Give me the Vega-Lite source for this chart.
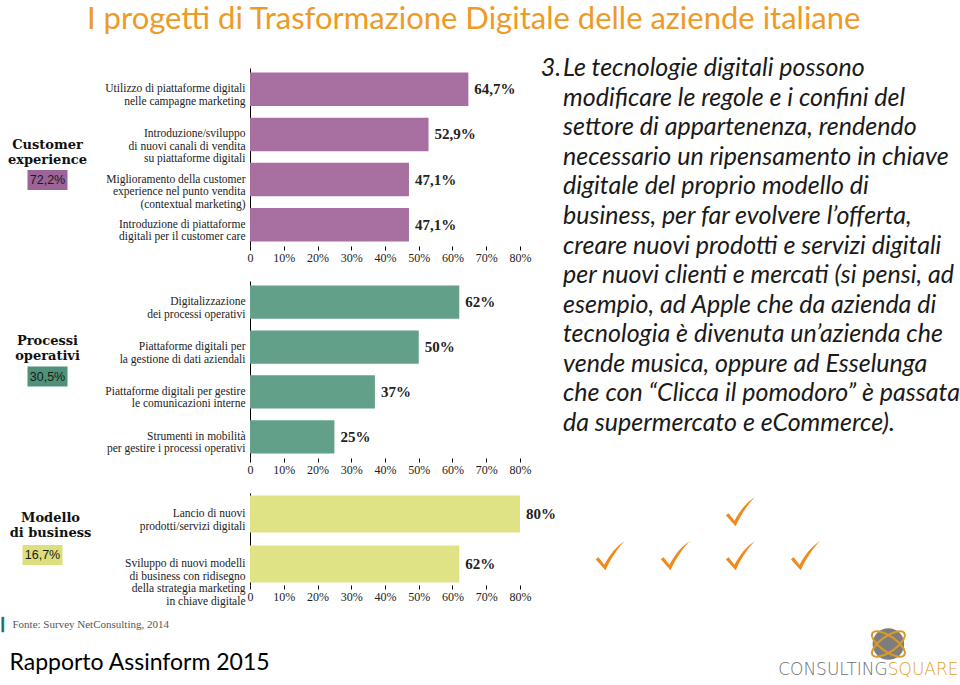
{
  "$schema": "https://vega.github.io/schema/vega-lite/v6.json",
  "background": "white",
  "padding": {"left": 0, "top": 4, "right": 0, "bottom": 0},
  "title": {"text": "I progetti di Trasformazione Digitale delle aziende italiane", "anchor": "start", "dx": 87, "font": "Lato", "fontSize": 31, "fontWeight": "normal", "color": "#EE9A26", "offset": 20},
  "config": {
    "view": {"stroke": null},
    "locale": {"number": {"decimal": ",", "thousands": ".", "grouping": [3], "currency": ["€", ""]}},
    "axisY": {"title": null, "labelExpr": "split(datum.label, '|')", "labelFont": "Liberation Serif", "labelFontSize": 11.5, "labelColor": "#222", "labelLineHeight": 12.5, "ticks": false, "domainColor": "#000", "domainWidth": 1, "labelPadding": 5, "labelLimit": 0},
    "axisX": {"title": null, "values": [0, 0.1, 0.2, 0.3, 0.4, 0.5, 0.6, 0.7, 0.8], "format": ".0%", "labelExpr": "datum.value == 0 ? '0' : datum.label", "domain": false, "grid": false, "tickColor": "#000", "tickSize": 4, "labelFont": "Liberation Serif", "labelFontSize": 12, "labelColor": "#222", "labelPadding": 2, "labelFlush": false}
  },
  "datasets": {
    "p1": [
      {"item": "Utilizzo di piattaforme digitali|nelle campagne marketing", "value": 0.647},
      {"item": "Introduzione/sviluppo|di nuovi canali di vendita|su piattaforme digitali", "value": 0.529},
      {"item": "Miglioramento della customer|experience nel punto vendita|(contextual marketing)", "value": 0.471},
      {"item": "Introduzione di piattaforme|digitali per il customer care", "value": 0.471}
    ],
    "p2": [
      {"item": "Digitalizzazione|dei processi operativi", "value": 0.62},
      {"item": "Piattaforme digitali per|la gestione di dati aziendali", "value": 0.50},
      {"item": "Piattaforme digitali per gestire|le comunicazioni interne", "value": 0.37},
      {"item": "Strumenti in mobilità|per gestire i processi operativi", "value": 0.25}
    ],
    "p3": [
      {"item": "Lancio di nuovi|prodotti/servizi digitali", "value": 0.80},
      {"item": "Sviluppo di nuovi modelli|di business con ridisegno|della strategia marketing|in chiave digitale", "value": 0.62}
    ],
    "groups": [
      {"id": "ce", "group": "Customer|experience", "share": 0.722},
      {"id": "po", "group": "Processi|operativi", "share": 0.305},
      {"id": "mb", "group": "Modello|di business", "share": 0.167}
    ],
    "lines": [
      {"line": 1, "text": "Le tecnologie digitali possono"},
      {"line": 2, "text": "modificare le regole e i confini del"},
      {"line": 3, "text": "settore di appartenenza, rendendo"},
      {"line": 4, "text": "necessario un ripensamento in chiave"},
      {"line": 5, "text": "digitale del proprio modello di"},
      {"line": 6, "text": "business, per far evolvere l’offerta,"},
      {"line": 7, "text": "creare nuovi prodotti e servizi digitali"},
      {"line": 8, "text": "per nuovi clienti e mercati (si pensi, ad"},
      {"line": 9, "text": "esempio, ad Apple che da azienda di"},
      {"line": 10, "text": "tecnologia è divenuta un’azienda che"},
      {"line": 11, "text": "vende musica, oppure ad Esselunga"},
      {"line": 12, "text": "che con “Clicca il pomodoro” è passata"},
      {"line": 13, "text": "da supermercato e eCommerce)."}
    ],
    "checks": [
      {"row": 1, "col": 3},
      {"row": 2, "col": 1},
      {"row": 2, "col": 2},
      {"row": 2, "col": 3},
      {"row": 2, "col": 4}
    ],
    "logo": [{"brand": "CONSULTING", "accent": "SQUARE"}],
    "footer": [{"source": "Fonte: Survey NetConsulting, 2014", "report": "Rapporto Assinform 2015"}]
  },
  "columns": 3,
  "spacing": {"row": 35, "column": 43},
  "bounds": "flush",
  "concat": [
    {
      "width": 207, "height": 178,
      "data": {"name": "groups"},
      "transform": [{"filter": "datum.id == 'ce'"}],
      "layer": [
        {"mark": {"type": "text", "font": "DejaVu Serif", "fontWeight": "bold", "fontSize": 13, "lineHeight": 15, "lineBreak": "|", "dx": -56, "dy": -12, "color": "#111"}, "encoding": {"text": {"field": "group"}}},
        {"mark": {"type": "point", "shape": "M-1,-0.5H1V0.5H-1Z", "filled": true, "size": 1600, "opacity": 1, "color": "#9c6497", "xOffset": -56, "yOffset": 23}, "encoding": {}},
        {"mark": {"type": "text", "font": "'Liberation Sans Narrow', 'Liberation Sans', sans-serif", "fontSize": 12.5, "dx": -56, "dy": 23, "color": "#1a1a1a"}, "encoding": {"text": {"field": "share", "format": ".1%"}}}
      ]
    },
    {
      "width": 270, "height": 178,
      "data": {"name": "p1"},
      "encoding": {
        "y": {"field": "item", "type": "nominal", "sort": null, "scale": {"paddingInner": 0.26, "paddingOuter": 0.1}},
        "x": {"field": "value", "type": "quantitative", "scale": {"domain": [0, 0.8]}}
      },
      "layer": [
        {"mark": {"type": "bar", "color": "#a770a0"}},
        {"mark": {"type": "text", "align": "left", "dx": 6, "font": "Liberation Serif", "fontWeight": "bold", "fontSize": 15, "color": "#222"}, "encoding": {"text": {"field": "value", "format": ".1%"}}}
      ]
    },
    {
      "width": 397, "height": 178,
      "data": {"name": "lines"},
      "encoding": {
        "y": {"field": "line", "type": "ordinal", "scale": {"type": "point", "padding": 0, "range": [0, 355]}, "axis": null},
        "x": {"datum": 0, "type": "quantitative", "scale": {"domain": [0, 1]}, "axis": null}
      },
      "layer": [
        {"mark": {"type": "text", "align": "left", "baseline": "middle", "font": "Lato", "fontStyle": "italic", "fontSize": 25, "color": "#1a1a1a"}, "encoding": {"text": {"field": "text"}}},
        {"transform": [{"filter": "datum.line == 1"}], "mark": {"type": "text", "align": "right", "baseline": "middle", "dx": -2, "font": "Lato", "fontStyle": "italic", "fontSize": 25, "color": "#1a1a1a"}, "encoding": {"text": {"value": "3."}}}
      ]
    },
    {
      "width": 207, "height": 177,
      "data": {"name": "groups"},
      "transform": [{"filter": "datum.id == 'po'"}],
      "layer": [
        {"mark": {"type": "text", "font": "DejaVu Serif", "fontWeight": "bold", "fontSize": 13, "lineHeight": 15, "lineBreak": "|", "dx": -56, "dy": -29, "color": "#111"}, "encoding": {"text": {"field": "group"}}},
        {"mark": {"type": "point", "shape": "M-1,-0.5H1V0.5H-1Z", "filled": true, "size": 1600, "opacity": 1, "color": "#4f9279", "xOffset": -56, "yOffset": 7}, "encoding": {}},
        {"mark": {"type": "text", "font": "'Liberation Sans Narrow', 'Liberation Sans', sans-serif", "fontSize": 12.5, "dx": -56, "dy": 7, "color": "#1a1a1a"}, "encoding": {"text": {"field": "share", "format": ".1%"}}}
      ]
    },
    {
      "width": 270, "height": 177,
      "data": {"name": "p2"},
      "encoding": {
        "y": {"field": "item", "type": "nominal", "sort": null, "scale": {"paddingInner": 0.26, "paddingOuter": 0.1}},
        "x": {"field": "value", "type": "quantitative", "scale": {"domain": [0, 0.8]}}
      },
      "layer": [
        {"mark": {"type": "bar", "color": "#62a08a"}},
        {"mark": {"type": "text", "align": "left", "dx": 6, "font": "Liberation Serif", "fontWeight": "bold", "fontSize": 15, "color": "#222"}, "encoding": {"text": {"field": "value", "format": ".0%"}}}
      ]
    },
    {
      "width": 397, "height": 177,
      "data": {"values": []},
      "mark": {"type": "point"},
      "encoding": {}
    },
    {
      "width": 207, "height": 92,
      "data": {"name": "groups"},
      "transform": [{"filter": "datum.id == 'mb'"}],
      "layer": [
        {"mark": {"type": "text", "font": "DejaVu Serif", "fontWeight": "bold", "fontSize": 13, "lineHeight": 15, "lineBreak": "|", "dx": -53, "dy": -21, "color": "#111"}, "encoding": {"text": {"field": "group"}}},
        {"mark": {"type": "point", "shape": "M-1,-0.5H1V0.5H-1Z", "filled": true, "size": 1600, "opacity": 1, "color": "#dcdf7c", "xOffset": -61, "yOffset": 16}, "encoding": {}},
        {"mark": {"type": "text", "font": "'Liberation Sans Narrow', 'Liberation Sans', sans-serif", "fontSize": 12.5, "dx": -61, "dy": 16, "color": "#1a1a1a"}, "encoding": {"text": {"field": "share", "format": ".1%"}}}
      ]
    },
    {
      "width": 270, "height": 92,
      "data": {"name": "p3"},
      "encoding": {
        "y": {"field": "item", "type": "nominal", "sort": null, "scale": {"paddingInner": 0.26, "paddingOuter": 0.05}},
        "x": {"field": "value", "type": "quantitative", "scale": {"domain": [0, 0.8]}}
      },
      "layer": [
        {"mark": {"type": "bar", "color": "#e0e385"}},
        {"mark": {"type": "text", "align": "left", "dx": 6, "font": "Liberation Serif", "fontWeight": "bold", "fontSize": 15, "color": "#222"}, "encoding": {"text": {"field": "value", "format": ".0%"}}}
      ]
    },
    {
      "width": 397, "height": 92,
      "layer": [
        {
          "data": {"name": "checks"},
          "mark": {"type": "point", "shape": "M-0.9,0.2 L-0.72,0.08 L-0.35,0.55 C0.0,-0.1 0.4,-0.6 0.95,-0.95 C0.45,-0.45 0.05,0.2 -0.28,0.9 Z", "filled": true, "size": 1000, "opacity": 1, "color": "#F08A1E"},
          "encoding": {
            "x": {"field": "col", "type": "quantitative", "scale": {"domain": [0.28, 6.38], "nice": false, "zero": false}, "axis": null},
            "y": {"field": "row", "type": "quantitative", "scale": {"domain": [0.568, 2.659], "nice": false, "zero": false, "reverse": true}, "axis": null}
          }
        },
        {
          "data": {"name": "logo"},
          "mark": {"type": "point", "shape": "circle", "filled": true, "size": 1000, "opacity": 1, "color": "#7d7d7d"},
          "encoding": {"x": {"datum": 5.28, "type": "quantitative"}, "y": {"datum": 4.0, "type": "quantitative"}}
        },
        {
          "data": {"name": "logo"},
          "mark": {"type": "point", "shape": "M-1,0 A1,0.4 0 1,0 1,0 A1,0.4 0 1,0 -1,0 Z", "filled": false, "size": 1500, "opacity": 1, "strokeWidth": 2, "color": "#D99A2B", "angle": 35},
          "encoding": {"x": {"datum": 5.28, "type": "quantitative"}, "y": {"datum": 4.0, "type": "quantitative"}}
        },
        {
          "data": {"name": "logo"},
          "mark": {"type": "point", "shape": "M-1,0 A1,0.4 0 1,0 1,0 A1,0.4 0 1,0 -1,0 Z", "filled": false, "size": 1500, "opacity": 1, "strokeWidth": 2, "color": "#D99A2B", "angle": -35},
          "encoding": {"x": {"datum": 5.28, "type": "quantitative"}, "y": {"datum": 4.0, "type": "quantitative"}}
        },
        {
          "data": {"name": "logo"},
          "mark": {"type": "text", "align": "right", "baseline": "middle", "font": "DejaVu Sans", "fontWeight": 300, "fontSize": 17, "color": "#6d6e71"},
          "encoding": {"x": {"datum": 5.27, "type": "quantitative"}, "y": {"datum": 4.58, "type": "quantitative"}, "text": {"field": "brand"}}
        },
        {
          "data": {"name": "logo"},
          "mark": {"type": "text", "align": "left", "baseline": "middle", "font": "DejaVu Sans", "fontWeight": 300, "fontSize": 17, "color": "#E0A030"},
          "encoding": {"x": {"datum": 5.27, "type": "quantitative"}, "y": {"datum": 4.58, "type": "quantitative"}, "text": {"field": "accent"}}
        }
      ]
    },
    {
      "width": 207, "height": 60,
      "data": {"name": "footer"},
      "layer": [
        {"mark": {"type": "text", "align": "left", "baseline": "middle", "dx": -102, "dy": -25, "font": "DejaVu Sans", "fontSize": 13, "color": "#1f6f78"}, "encoding": {"text": {"value": "▎"}}},
        {"mark": {"type": "text", "align": "left", "baseline": "middle", "dx": -91, "dy": -25, "font": "Liberation Serif", "fontSize": 11, "color": "#555"}, "encoding": {"text": {"field": "source"}}},
        {"mark": {"type": "text", "align": "left", "baseline": "middle", "dx": -94, "dy": 13, "font": "Lato", "fontSize": 23, "color": "#000"}, "encoding": {"text": {"field": "report"}}}
      ]
    }
  ]
}
